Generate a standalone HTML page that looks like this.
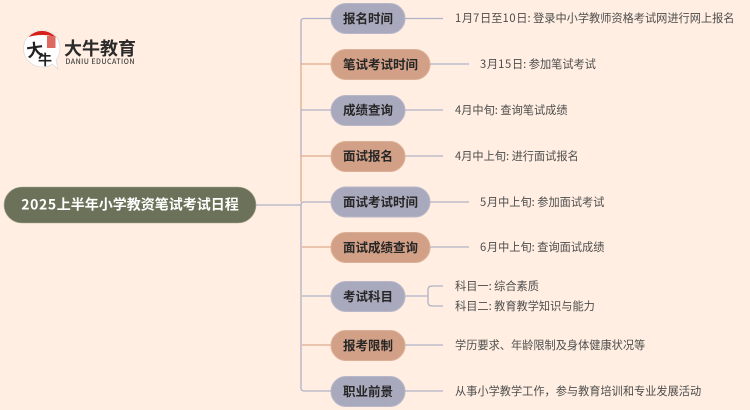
<!DOCTYPE html>
<html><head><meta charset="utf-8">
<style>
html,body{margin:0;padding:0;background:#ffeee1;}
svg{display:block;}
text{font-family:"Noto Sans CJK SC","Liberation Sans",sans-serif;}
.n{font-size:12.5px;font-weight:700;fill:#262626;text-anchor:middle;}
.t{font-size:11.2px;fill:#4d4d4d;}
.d{letter-spacing:.7px;}
.p{fill:#a9a9bd;stroke:#b7b7c8;}
.o{fill:#d2a086;stroke:#dcb096;}
.lp{stroke:#b1b1c8;stroke-width:1.3;fill:none;}
.lo{stroke:#e0ab90;stroke-width:1.3;fill:none;}
</style></head>
<body>
<svg width="750" height="410" viewBox="0 0 750 410" xmlns="http://www.w3.org/2000/svg">
<rect width="750" height="410" fill="#ffeee1"/>
<!-- trunk -->
<path class="lp" d="M256 205H301"/>
<path class="lp" d="M331 18.500H304Q301 18.500 301 21.500V64"/>
<path class="lo" d="M331 64H301V110"/>
<path class="lp" d="M331 110H301V156"/>
<path class="lo" d="M331 156H301V202"/>
<path class="lp" d="M331 202H304Q301 202 301 205V388Q301 391 304 391H331"/>
<path class="lo" d="M302 247H331"/>
<path class="lp" d="M302 296H331"/>
<path class="lo" d="M302 345H331"/>
<!-- leaf connectors -->
<path class="lp" d="M405 18.500H443M430 64H469M405 110H443M405 156H443M430 202H469M430 247H469M405 345H443M405 391H443"/>
<path class="lp" d="M405 296H428M443 286H432Q428 286 428 290V302Q428 306 432 306H443"/>
<!-- root -->
<rect x="4" y="187" width="252" height="36" rx="18" fill="#6b7259" stroke="#a9ab93" stroke-width=".6"/>
<text x="130" y="209.500" text-anchor="middle" font-size="14" font-weight="700" fill="#fff"><tspan letter-spacing=".6">2025</tspan>上半年小学教资笔试考试日程</text>
<!-- nodes -->
<rect class="p" x="331" y="3.500" width="74" height="30" rx="15"/>
<text class="n" x="368" y="23">报名时间</text>
<rect class="o" x="331" y="49.500" width="99" height="30" rx="15"/>
<text class="n" x="380.500" y="69">笔试考试时间</text>
<rect class="p" x="331" y="95.500" width="74" height="30" rx="15"/>
<text class="n" x="368" y="114.500">成绩查询</text>
<rect class="o" x="331" y="141.500" width="74" height="30" rx="15"/>
<text class="n" x="368" y="160.500">面试报名</text>
<rect class="p" x="331" y="187" width="99" height="30" rx="15"/>
<text class="n" x="380.500" y="206.500">面试考试时间</text>
<rect class="o" x="331" y="232.500" width="99" height="30" rx="15"/>
<text class="n" x="380.500" y="252">面试成绩查询</text>
<rect class="p" x="331" y="281.500" width="74" height="30" rx="15"/>
<text class="n" x="368" y="301">考试科目</text>
<rect class="o" x="331" y="330.500" width="74" height="30" rx="15"/>
<text class="n" x="368" y="350">报考限制</text>
<rect class="p" x="331" y="376.500" width="74" height="30" rx="15"/>
<text class="n" x="368" y="396">职业前景</text>
<!-- leaf text -->
<text class="t" x="455" y="22"><tspan class="d">1</tspan>月<tspan class="d">7</tspan>日至<tspan class="d">10</tspan>日: 登录中小学教师资格考试网进行网上报名</text>
<text class="t" x="480" y="68"><tspan class="d">3</tspan>月<tspan class="d">15</tspan>日: 参加笔试考试</text>
<text class="t" x="455" y="114">4月中旬: 查询笔试成绩</text>
<text class="t" x="455" y="160">4月中上旬: 进行面试报名</text>
<text class="t" x="480" y="206"><tspan class="d">5</tspan>月中上旬: 参加面试考试</text>
<text class="t" x="480" y="251"><tspan class="d">6</tspan>月中上旬: 查询面试成绩</text>
<text class="t" x="455" y="290">科目一: 综合素质</text>
<text class="t" x="455" y="310">科目二: 教育教学知识与能力</text>
<text class="t" x="455" y="349">学历要求、年龄限制及身体健康状况等</text>
<text class="t" x="455" y="395">从事小学教学工作，参与教育培训和专业发展活动</text>
<!-- logo -->
<path d="M42 30A18 18 0 0 0 42 67Q49 67 52 64L58 69L56 60Q60 55 60 48A18 18 0 0 0 42 30Z" fill="#fff" stroke="#d8d4d0" stroke-width=".6"/>
<path d="M28.500 37A18 18 0 0 1 55.500 37Q42 33 28.500 37Z" fill="#d6201c"/>
<rect x="47" y="36" width="8.500" height="12" fill="#dc6a60"/>
<text x="35" y="56" font-size="17" font-weight="700" fill="#222" text-anchor="middle" transform="rotate(-8 35 50)">大</text>
<text x="45" y="65" font-size="14" font-weight="700" fill="#222" text-anchor="middle">牛</text>
<text x="64" y="55" font-size="18" font-weight="700" fill="#2a2a2a">大牛教育</text>
<text x="65.500" y="64" font-size="7" font-weight="500" fill="#444" textLength="69">DANIU EDUCATION</text>
</svg>
</body></html>
